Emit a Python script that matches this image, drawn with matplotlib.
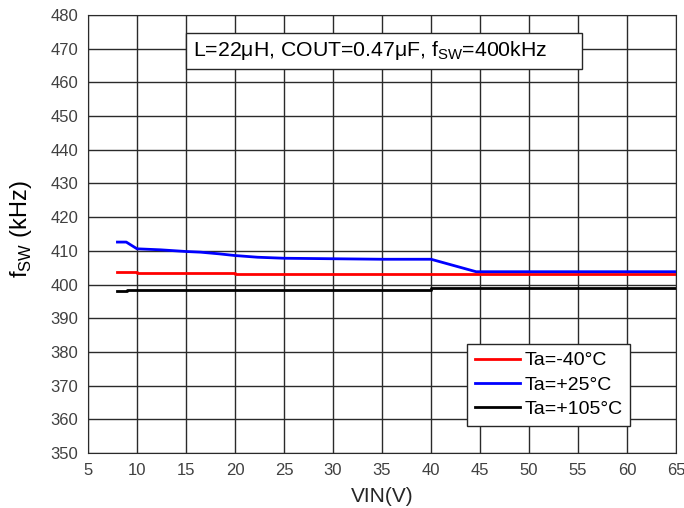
import numpy as np
import matplotlib
matplotlib.use("Agg")
import matplotlib.pyplot as plt
from matplotlib.patches import Rectangle

plt.rcParams['font.family'] = ['Liberation Sans', 'DejaVu Sans']

# step-like curves
vin_m40 = [8, 10, 10, 20, 20, 65]
fsw_m40 = [403.8, 403.8, 403.5, 403.5, 403.1, 403.1]

vin_25 = [8, 8.9, 10, 12.4, 15, 16.5, 18.4, 20, 22.3, 25, 35, 40, 44.6, 65]
fsw_25 = [412.6, 412.6, 410.6, 410.3, 409.8, 409.6, 409.1, 408.6, 408.1, 407.8, 407.5, 407.5, 403.8, 403.8]

vin_105 = [8, 9, 9, 40, 40, 65]
fsw_105 = [398.1, 398.1, 398.4, 398.4, 398.9, 398.9]

labels = ['Ta=-40°C', 'Ta=+25°C', 'Ta=+105°C']
colors = ['#ff0000', '#0000ff', '#000000']

fig = plt.figure(figsize=(6.84, 5.08), dpi=100)
ax = fig.add_axes([0.1287, 0.1083, 0.8597, 0.8622])

ax.plot(vin_m40, fsw_m40, color=colors[0], lw=2, label=labels[0])
ax.plot(vin_25, fsw_25, color=colors[1], lw=2, label=labels[1])
ax.plot(vin_105, fsw_105, color=colors[2], lw=2, label=labels[2])

ax.set_xlim(5, 65)
ax.set_ylim(350, 480)
ax.set_xticks(np.arange(5, 66, 5))
ax.set_yticks(np.arange(350, 481, 10))
ax.grid(True, color='#2a2a2a', lw=1)
ax.set_axisbelow(True)
ax.tick_params(length=0, labelsize=12, labelcolor='#404040', pad=7)
for s in ax.spines.values():
    s.set_color('#2a2a2a')

ax.set_xlabel('VIN(V)', fontsize=15, color='#262626')
ax.xaxis.set_label_coords(0.5, -0.078)
ax.set_ylabel(r'f$_{\mathregular{SW}}$ (kHz)', fontsize=17, color='black')
ax.yaxis.set_label_coords(-0.092, 0.51)

# condition box
ax.add_patch(Rectangle((0.1667, 0.8767), 0.6733, 0.0822, transform=ax.transAxes,
                       fc='white', ec='#262626', lw=1, zorder=3))
ax.text(0.1786, 0.9178, 'L=22μH, COUT=0.47μF, f$_{\\mathregular{SW}}$=400kHz',
        transform=ax.transAxes, fontsize=15.3, va='center', ha='left', zorder=4)

leg = ax.legend(loc='lower left', bbox_to_anchor=(0.6446, 0.0616), fontsize=14,
                frameon=True, fancybox=False, framealpha=1, edgecolor='#262626',
                handlelength=2.3, handletextpad=0.25, borderpad=0.4,
                labelspacing=0.35, borderaxespad=0)
leg.get_frame().set_linewidth(1)

fig.savefig('out.png', dpi=100)
